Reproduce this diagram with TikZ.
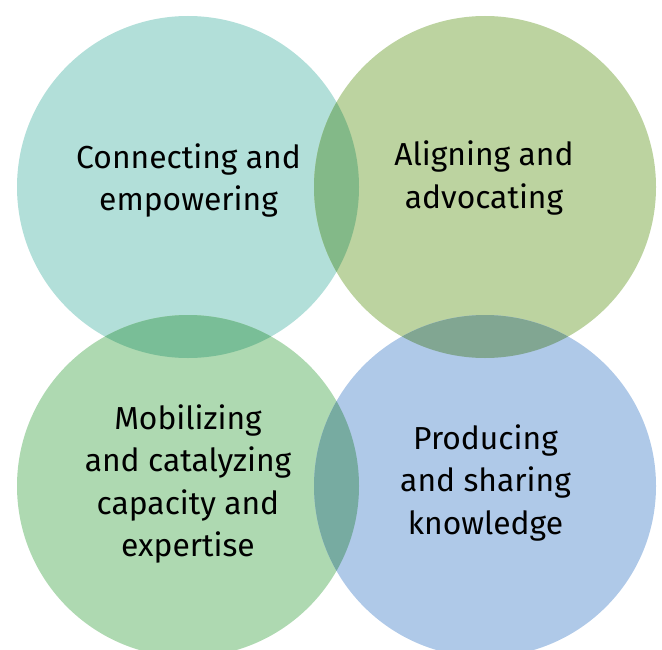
\documentclass[tikz,border=0pt]{standalone}
\usepackage{fontspec}
\setmainfont{Fira Sans}
\definecolor{cTL}{RGB}{178,223,217}
\definecolor{cTR}{RGB}{188,211,160}
\definecolor{cBL}{RGB}{174,217,177}
\definecolor{cBR}{RGB}{175,201,232}
\definecolor{cTLTR}{RGB}{131,185,136}
\definecolor{cTLBL}{RGB}{121,190,151}
\definecolor{cTRBR}{RGB}{129,166,146}
\definecolor{cBLBR}{RGB}{119,171,161}
\begin{document}
\begin{tikzpicture}[x=1bp,y=-1bp,
  lbl/.style={align=center, font=\fontsize{31.8bp}{42.5bp}\selectfont, text=black, inner sep=0pt}]
\useasboundingbox (0,0) rectangle (662,650);
\coordinate (ctl) at (188,187);
\coordinate (ctr) at (485,187);
\coordinate (cbl) at (188,486);
\coordinate (cbr) at (485,486);
\begin{scope}
  \clip (0,0) rectangle (662,650);
  \fill[cTL] (ctl) circle[radius=171];
  \fill[cTR] (ctr) circle[radius=171];
  \fill[cBL] (cbl) circle[radius=171];
  \fill[cBR] (cbr) circle[radius=171];
  \begin{scope}
    \clip (ctl) circle[radius=171];
    \fill[cTLTR] (ctr) circle[radius=171];
  \end{scope}
  \begin{scope}
    \clip (ctl) circle[radius=171];
    \fill[cTLBL] (cbl) circle[radius=171];
  \end{scope}
  \begin{scope}
    \clip (ctr) circle[radius=171];
    \fill[cTRBR] (cbr) circle[radius=171];
  \end{scope}
  \begin{scope}
    \clip (cbl) circle[radius=171];
    \fill[cBLBR] (cbr) circle[radius=171];
  \end{scope}
\end{scope}
\node[lbl] (ttl) at (188.5,180.7) {Connecting and\\empowering};
\node[lbl] (ttr) at (484,178) {Aligning and\\advocating};
\node[lbl] (tbl) at (188,484) {Mobilizing\\and catalyzing\\capacity and\\expertise};
\node[lbl] (tbr) at (485.5,482.6) {Producing\\and sharing\\knowledge};
\end{tikzpicture}
\end{document}
